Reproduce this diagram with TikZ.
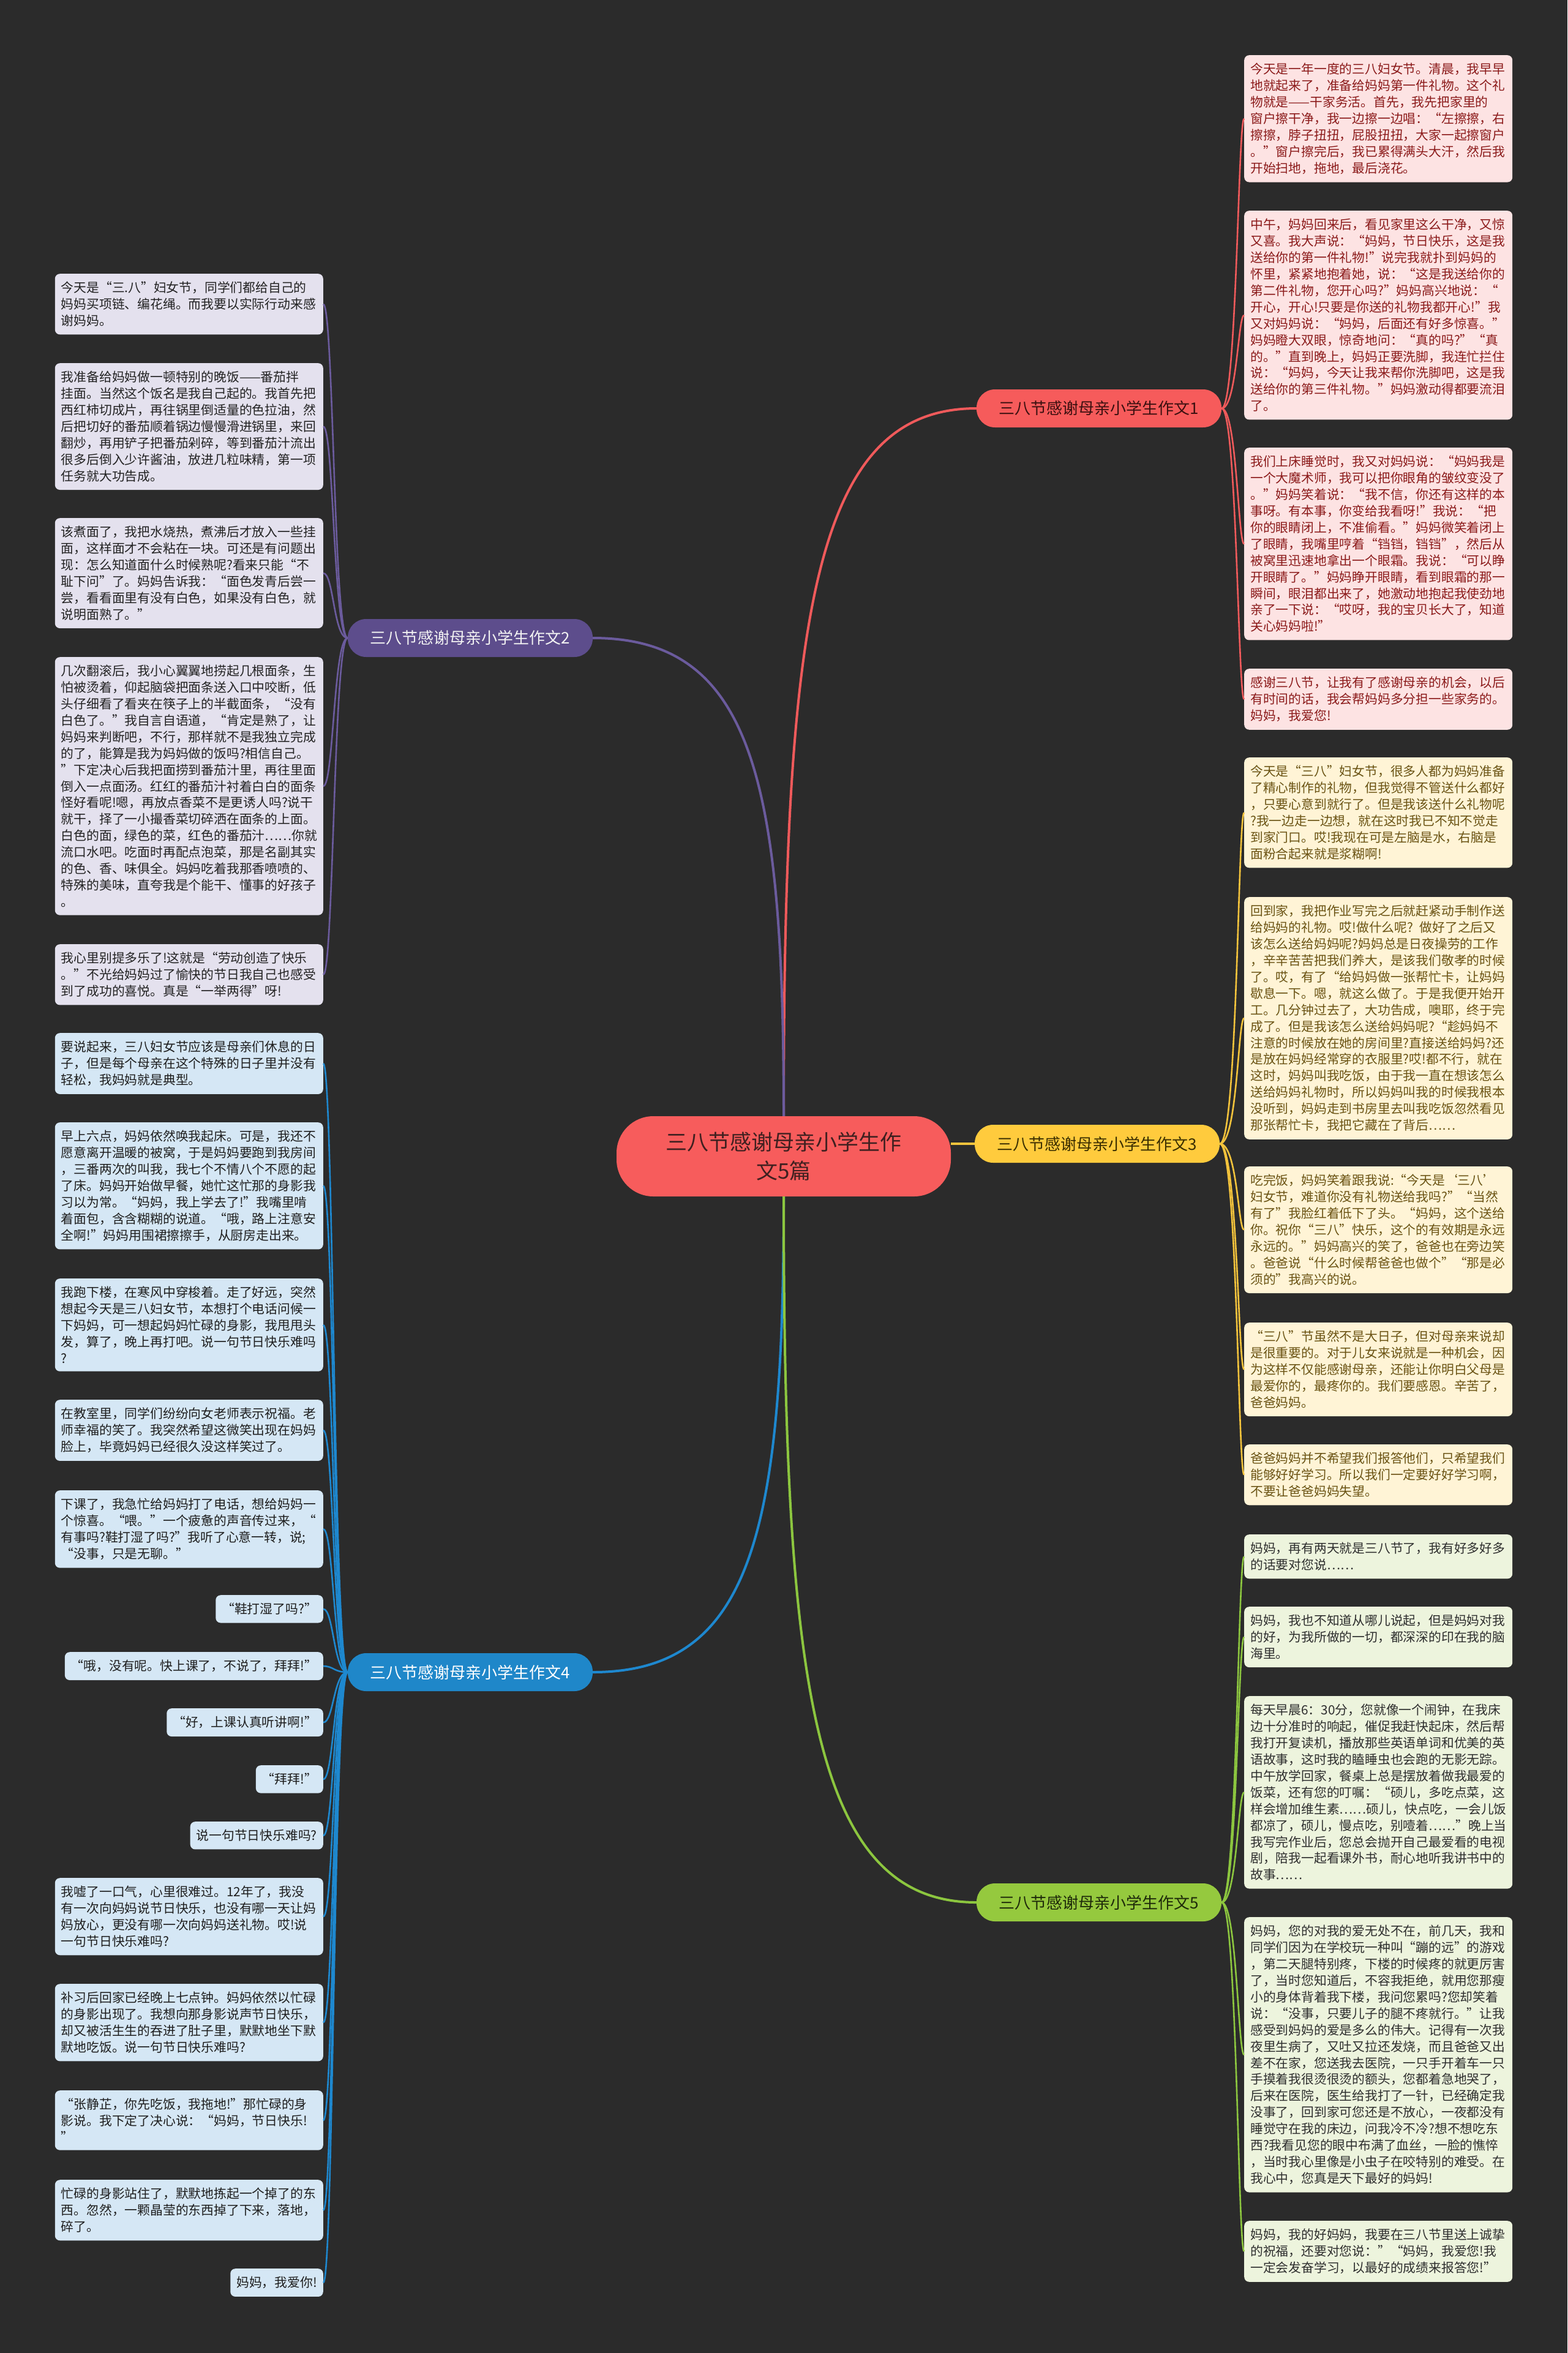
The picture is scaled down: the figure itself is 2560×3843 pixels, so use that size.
\documentclass[tikz,border=0pt]{standalone}
\usepackage{fontspec}
\newfontfamily\cjk{Noto Sans CJK SC}
\definecolor{bg}{HTML}{2B2B2B}
\definecolor{cfill}{HTML}{F75C5C}
\definecolor{ctext}{HTML}{402020}
\definecolor{rline}{HTML}{F05A5B}
\definecolor{rnode}{HTML}{F65B5B}
\definecolor{rntext}{HTML}{3C1010}
\definecolor{rleaf}{HTML}{FDE3E3}
\definecolor{rtext}{HTML}{8B1A1A}
\definecolor{yline}{HTML}{F3C33C}
\definecolor{ynode}{HTML}{FFCB3D}
\definecolor{yntext}{HTML}{3A2E00}
\definecolor{yleaf}{HTML}{FFF4D6}
\definecolor{ytext}{HTML}{6A5313}
\definecolor{gline}{HTML}{8CC63F}
\definecolor{gnode}{HTML}{95C93E}
\definecolor{gntext}{HTML}{1E2A0A}
\definecolor{gleaf}{HTML}{EDF4DD}
\definecolor{gtext}{HTML}{2E2E2E}
\definecolor{bline}{HTML}{1E88CF}
\definecolor{bnode}{HTML}{1F87C9}
\definecolor{bntext}{HTML}{FFFFFF}
\definecolor{bleaf}{HTML}{D5E7F5}
\definecolor{btext}{HTML}{1E1E1E}
\definecolor{pline}{HTML}{6B5B9D}
\definecolor{pnode}{HTML}{5D4D8C}
\definecolor{pntext}{HTML}{F2F2F2}
\definecolor{pleaf}{HTML}{E4E1EE}
\definecolor{ptext}{HTML}{222222}
\tikzset{
  centernode/.style={fill=cfill, text=ctext, rounded corners=60pt, minimum width=546pt, minimum height=131pt, align=center, inner sep=0pt, font=\cjk\fontsize{35}{47}\selectfont},
  branch/.style={rounded corners=30pt, minimum width=400pt, minimum height=62pt, inner sep=0pt, font=\cjk\fontsize{26}{30}\selectfont},
  leaf/.style={rounded corners=8pt, inner xsep=10pt, inner ysep=13pt, align=left, font=\cjk\fontsize{20.8}{26.9}\selectfont},
  wide/.style={text width=418pt},
  lr/.style={leaf, fill=rleaf, text=rtext},
  ly/.style={leaf, fill=yleaf, text=ytext},
  lg/.style={leaf, fill=gleaf, text=gtext},
  lb/.style={leaf, fill=bleaf, text=btext},
  lp/.style={leaf, fill=pleaf, text=ptext},
  mainline/.style={line width=4pt},
  leafline/.style={line width=2.6pt},
}
\begin{document}
\begin{tikzpicture}[x=1pt,y=-1pt]
\fill[bg] (0,0) rectangle (2560,3843);
\useasboundingbox (0,0) rectangle (2560,3843);

% center and branches
\node[centernode] (c) at (1280,1888.5) {三八节感谢母亲小学生作\\文5篇};
\node[branch, fill=rnode, text=rntext] (b1) at (1795,667) {三八节感谢母亲小学生作文1};
\node[branch, fill=pnode, text=pntext] (b2) at (768,1042) {三八节感谢母亲小学生作文2};
\node[branch, fill=ynode, text=yntext] (b3) at (1792,1868) {三八节感谢母亲小学生作文3};
\node[branch, fill=bnode, text=bntext] (b4) at (768,2731) {三八节感谢母亲小学生作文4};
\node[branch, fill=gnode, text=gntext] (b5) at (1795,3107) {三八节感谢母亲小学生作文5};

% ---------- branch 1 (red) ----------
\node[lr, wide, anchor=north west] (r1) at (2032,90) {今天是一年一度的三八妇女节。清晨，我早早\\地就起来了，准备给妈妈第一件礼物。这个礼\\物就是——干家务活。首先，我先把家里的\\窗户擦干净，我一边擦一边唱：“左擦擦，右\\擦擦，脖子扭扭，屁股扭扭，大家一起擦窗户\\。”窗户擦完后，我已累得满头大汗，然后我\\开始扫地，拖地，最后浇花。};
\node[lr, wide, anchor=north west] (r2) at (2032,344) {中午，妈妈回来后，看见家里这么干净，又惊\\又喜。我大声说：“妈妈，节日快乐，这是我\\送给你的第一件礼物!”说完我就扑到妈妈的\\怀里，紧紧地抱着她，说：“这是我送给你的\\第二件礼物，您开心吗?”妈妈高兴地说：“\\开心，开心!只要是你送的礼物我都开心!”我\\又对妈妈说：“妈妈，后面还有好多惊喜。”\\妈妈瞪大双眼，惊奇地问：“真的吗?”“真\\的。”直到晚上，妈妈正要洗脚，我连忙拦住\\说：“妈妈，今天让我来帮你洗脚吧，这是我\\送给你的第三件礼物。”妈妈激动得都要流泪\\了。};
\node[lr, wide, anchor=north west] (r3) at (2032,731) {我们上床睡觉时，我又对妈妈说：“妈妈我是\\一个大魔术师，我可以把你眼角的皱纹变没了\\。”妈妈笑着说：“我不信，你还有这样的本\\事呀。有本事，你变给我看呀!”我说：“把\\你的眼睛闭上，不准偷看。”妈妈微笑着闭上\\了眼睛，我嘴里哼着“铛铛，铛铛”，然后从\\被窝里迅速地拿出一个眼霜。我说：“可以睁\\开眼睛了。”妈妈睁开眼睛，看到眼霜的那一\\瞬间，眼泪都出来了，她激动地抱起我使劲地\\亲了一下说：“哎呀，我的宝贝长大了，知道\\关心妈妈啦!”};
\node[lr, wide, anchor=north west] (r4) at (2032,1092) {感谢三八节，让我有了感谢母亲的机会，以后\\有时间的话，我会帮妈妈多分担一些家务的。\\妈妈，我爱您!};

% ---------- branch 3 (yellow) ----------
\node[ly, wide, anchor=north west] (y1) at (2032,1237) {今天是“三八”妇女节，很多人都为妈妈准备\\了精心制作的礼物，但我觉得不管送什么都好\\，只要心意到就行了。但是我该送什么礼物呢\\?我一边走一边想，就在这时我已不知不觉走\\到家门口。哎!我现在可是左脑是水，右脑是\\面粉合起来就是浆糊啊!};
\node[ly, wide, anchor=north west] (y2) at (2032,1465) {回到家，我把作业写完之后就赶紧动手制作送\\给妈妈的礼物。哎!做什么呢? 做好了之后又\\该怎么送给妈妈呢?妈妈总是日夜操劳的工作\\，辛辛苦苦把我们养大，是该我们敬孝的时候\\了。哎，有了“给妈妈做一张帮忙卡，让妈妈\\歇息一下。嗯，就这么做了。于是我便开始开\\工。几分钟过去了，大功告成，噢耶，终于完\\成了。但是我该怎么送给妈妈呢?“趁妈妈不\\注意的时候放在她的房间里?直接送给妈妈?还\\是放在妈妈经常穿的衣服里?哎!都不行，就在\\这时，妈妈叫我吃饭，由于我一直在想该怎么\\送给妈妈礼物时，所以妈妈叫我的时候我根本\\没听到，妈妈走到书房里去叫我吃饭忽然看见\\那张帮忙卡，我把它藏在了背后……};
\node[ly, wide, anchor=north west] (y3) at (2032,1905) {吃完饭，妈妈笑着跟我说:“今天是‘三八’\\妇女节，难道你没有礼物送给我吗?”“当然\\有了”我脸红着低下了头。“妈妈，这个送给\\你。祝你“三八”快乐，这个的有效期是永远\\永远的。”妈妈高兴的笑了，爸爸也在旁边笑\\。爸爸说“什么时候帮爸爸也做个”“那是必\\须的”我高兴的说。};
\node[ly, wide, anchor=north west] (y4) at (2032,2160) {“三八”节虽然不是大日子，但对母亲来说却\\是很重要的。对于儿女来说就是一种机会，因\\为这样不仅能感谢母亲，还能让你明白父母是\\最爱你的，最疼你的。我们要感恩。辛苦了，\\爸爸妈妈。};
\node[ly, wide, anchor=north west] (y5) at (2032,2359) {爸爸妈妈并不希望我们报答他们，只希望我们\\能够好好学习。所以我们一定要好好学习啊，\\不要让爸爸妈妈失望。};

% ---------- branch 5 (green) ----------
\node[lg, wide, anchor=north west] (g1) at (2032,2506) {妈妈，再有两天就是三八节了，我有好多好多\\的话要对您说……};
\node[lg, wide, anchor=north west] (g2) at (2032,2624) {妈妈，我也不知道从哪儿说起，但是妈妈对我\\的好，为我所做的一切，都深深的印在我的脑\\海里。};
\node[lg, wide, anchor=north west] (g3) at (2032,2770) {每天早晨6：30分，您就像一个闹钟，在我床\\边十分准时的响起，催促我赶快起床，然后帮\\我打开复读机，播放那些英语单词和优美的英\\语故事，这时我的瞌睡虫也会跑的无影无踪。\\中午放学回家，餐桌上总是摆放着做我最爱的\\饭菜，还有您的叮嘱：“硕儿，多吃点菜，这\\样会增加维生素……硕儿，快点吃，一会儿饭\\都凉了，硕儿，慢点吃，别噎着……”晚上当\\我写完作业后，您总会抛开自己最爱看的电视\\剧，陪我一起看课外书，耐心地听我讲书中的\\故事……};
\node[lg, wide, anchor=north west] (g4) at (2032,3131) {妈妈，您的对我的爱无处不在，前几天，我和\\同学们因为在学校玩一种叫“蹦的远”的游戏\\，第二天腿特别疼，下楼的时候疼的就更厉害\\了，当时您知道后，不容我拒绝，就用您那瘦\\小的身体背着我下楼，我问您累吗?您却笑着\\说：“没事，只要儿子的腿不疼就行。”让我\\感受到妈妈的爱是多么的伟大。记得有一次我\\夜里生病了，又吐又拉还发烧，而且爸爸又出\\差不在家，您送我去医院，一只手开着车一只\\手摸着我很烫很烫的额头，您都着急地哭了，\\后来在医院，医生给我打了一针，已经确定我\\没事了，回到家可您还是不放心，一夜都没有\\睡觉守在我的床边，问我冷不冷?想不想吃东\\西?我看见您的眼中布满了血丝，一脸的憔悴\\，当时我心里像是小虫子在咬特别的难受。在\\我心中，您真是天下最好的妈妈!};
\node[lg, wide, anchor=north west] (g5) at (2032,3627) {妈妈，我的好妈妈，我要在三八节里送上诚挚\\的祝福，还要对您说：”“妈妈，我爱您!我\\一定会发奋学习，以最好的成绩来报答您!”};

% ---------- branch 2 (purple) ----------
\node[lp, wide, anchor=north east] (p1) at (528,447) {今天是“三.八”妇女节，同学们都给自己的\\妈妈买项链、编花绳。而我要以实际行动来感\\谢妈妈。};
\node[lp, wide, anchor=north east] (p2) at (528,593) {我准备给妈妈做一顿特别的晚饭——番茄拌\\挂面。当然这个饭名是我自己起的。我首先把\\西红柿切成片，再往锅里倒适量的色拉油，然\\后把切好的番茄顺着锅边慢慢滑进锅里，来回\\翻炒，再用铲子把番茄剁碎，等到番茄汁流出\\很多后倒入少许酱油，放进几粒味精，第一项\\任务就大功告成。};
\node[lp, wide, anchor=north east] (p3) at (528,846) {该煮面了，我把水烧热，煮沸后才放入一些挂\\面，这样面才不会粘在一块。可还是有问题出\\现：怎么知道面什么时候熟呢?看来只能“不\\耻下问”了。妈妈告诉我：“面色发青后尝一\\尝，看看面里有没有白色，如果没有白色，就\\说明面熟了。”};
\node[lp, wide, anchor=north east] (p4) at (528,1073) {几次翻滚后，我小心翼翼地捞起几根面条，生\\怕被烫着，仰起脑袋把面条送入口中咬断，低\\头仔细看了看夹在筷子上的半截面条，“没有\\白色了。”我自言自语道，“肯定是熟了，让\\妈妈来判断吧，不行，那样就不是我独立完成\\的了，能算是我为妈妈做的饭吗?相信自己。\\”下定决心后我把面捞到番茄汁里，再往里面\\倒入一点面汤。红红的番茄汁衬着白白的面条\\怪好看呢!嗯，再放点香菜不是更诱人吗?说干\\就干，择了一小撮香菜切碎洒在面条的上面。\\白色的面，绿色的菜，红色的番茄汁……你就\\流口水吧。吃面时再配点泡菜，那是名副其实\\的色、香、味俱全。妈妈吃着我那香喷喷的、\\特殊的美味，直夸我是个能干、懂事的好孩子\\。};
\node[lp, wide, anchor=north east] (p5) at (528,1542) {我心里别提多乐了!这就是“劳动创造了快乐\\。”不光给妈妈过了愉快的节日我自己也感受\\到了成功的喜悦。真是“一举两得”呀!};

% ---------- branch 4 (blue) ----------
\node[lb, wide, anchor=north east] (l1) at (528,1687) {要说起来，三八妇女节应该是母亲们休息的日\\子，但是每个母亲在这个特殊的日子里并没有\\轻松，我妈妈就是典型。};
\node[lb, wide, anchor=north east] (l2) at (528,1833) {早上六点，妈妈依然唤我起床。可是，我还不\\愿意离开温暖的被窝，于是妈妈要跑到我房间\\，三番两次的叫我，我七个不情八个不愿的起\\了床。妈妈开始做早餐，她忙这忙那的身影我\\习以为常。“妈妈，我上学去了!”我嘴里啃\\着面包，含含糊糊的说道。“哦，路上注意安\\全啊!”妈妈用围裙擦擦手，从厨房走出来。};
\node[lb, wide, anchor=north east] (l3) at (528,2088) {我跑下楼，在寒风中穿梭着。走了好远，突然\\想起今天是三八妇女节，本想打个电话问候一\\下妈妈，可一想起妈妈忙碌的身影，我甩甩头\\发，算了，晚上再打吧。说一句节日快乐难吗\\?};
\node[lb, wide, anchor=north east] (l4) at (528,2286) {在教室里，同学们纷纷向女老师表示祝福。老\\师幸福的笑了。我突然希望这微笑出现在妈妈\\脸上，毕竟妈妈已经很久没这样笑过了。};
\node[lb, wide, anchor=north east] (l5) at (528,2434) {下课了，我急忙给妈妈打了电话，想给妈妈一\\个惊喜。“喂。”一个疲惫的声音传过来，“\\有事吗?鞋打湿了吗?”我听了心意一转，说;\\“没事，只是无聊。”};
\node[lb, anchor=north east] (l6) at (528,2605) {“鞋打湿了吗?”};
\node[lb, anchor=north east] (l7) at (528,2698) {“哦，没有呢。快上课了，不说了，拜拜!”};
\node[lb, anchor=north east] (l8) at (528,2790) {“好，上课认真听讲啊!”};
\node[lb, anchor=north east] (l9) at (528,2883) {“拜拜!”};
\node[lb, anchor=north east] (l10) at (528,2975) {说一句节日快乐难吗?};
\node[lb, wide, anchor=north east] (l11) at (528,3067) {我嘘了一口气，心里很难过。12年了，我没\\有一次向妈妈说节日快乐，也没有哪一天让妈\\妈放心，更没有哪一次向妈妈送礼物。哎!说\\一句节日快乐难吗?};
\node[lb, wide, anchor=north east] (l12) at (528,3240) {补习后回家已经晚上七点钟。妈妈依然以忙碌\\的身影出现了。我想向那身影说声节日快乐，\\却又被活生生的吞进了肚子里，默默地坐下默\\默地吃饭。说一句节日快乐难吗?};
\node[lb, wide, anchor=north east] (l13) at (528,3414) {“张静芷，你先吃饭，我拖地!”那忙碌的身\\影说。我下定了决心说：“妈妈，节日快乐!\\”};
\node[lb, wide, anchor=north east] (l14) at (528,3560) {忙碌的身影站住了，默默地拣起一个掉了的东\\西。忽然，一颗晶莹的东西掉了下来，落地，\\碎了。};
\node[lb, anchor=north east] (l15) at (528,3705) {妈妈，我爱你!};

% ---------- main connectors ----------
\draw[mainline, rline] (c.north) .. controls (1280,1000) and (1330,667) .. (b1.west);
\draw[mainline, pline] (c.north) .. controls (1280,1276) and (1230,1042) .. (b2.east);
\draw[mainline, yline] (c.east |- b3.west) -- (b3.west);
\draw[mainline, bline] (c.south) .. controls (1280,2498) and (1230,2731) .. (b4.east);
\draw[mainline, gline] (c.south) .. controls (1280,2761) and (1330,3107) .. (b5.west);

% ---------- leaf connectors ----------
\foreach \n in {r1,r2,r3,r4}
  \draw[leafline, rline] (b1.east) .. controls +(25,0) and +(-10,0) .. (\n.west);
\foreach \n in {y1,y2,y3,y4,y5}
  \draw[leafline, yline] (b3.east) .. controls +(29,0) and +(-10,0) .. (\n.west);
\foreach \n in {g1,g2,g3,g4,g5}
  \draw[leafline, gline] (b5.east) .. controls +(25,0) and +(-10,0) .. (\n.west);
\foreach \n in {p1,p2,p3,p4,p5}
  \draw[leafline, pline] (b2.west) .. controls +(-23,0) and +(17,0) .. (\n.east);
\foreach \n in {l1,l2,l3,l4,l5,l6,l7,l8,l9,l10,l11,l12,l13,l14,l15}
  \draw[leafline, bline] (b4.west) .. controls +(-23,0) and +(17,0) .. (\n.east);
\end{tikzpicture}
\end{document}
